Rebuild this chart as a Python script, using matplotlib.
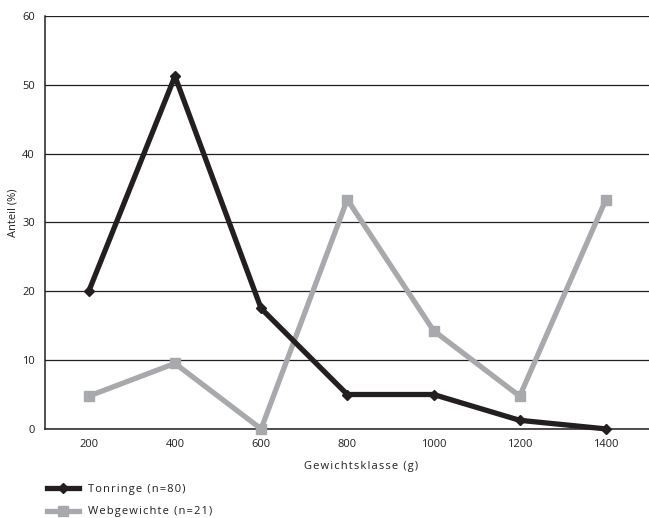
import matplotlib.pyplot as plt

plt.rcParams['font.family'] = ['Open Sans', 'DejaVu Sans']

klassen = ['200', '400', '600', '800', '1000', '1200', '1400']
tonringe = [20, 51.25, 17.5, 5, 5, 1.25, 0]
webgewichte = [4.76, 9.52, 0, 33.33, 14.29, 4.76, 33.33]


def spaced(s):
    # leichte Sperrung wie im Original
    return '\u200a'.join(s)


fig = plt.figure(figsize=(6.49, 5.18), dpi=100)
ax = fig.add_axes([0.069, 0.172, 0.931, 0.797])

x = list(range(len(klassen)))
ax.plot(x, tonringe, color='#231f20', lw=3.8, marker='D', ms=5,
        label=spaced('Tonringe (n=80)'), clip_on=False, zorder=4)
ax.plot(x, webgewichte, color='#a7a9ac', lw=3.8, marker='s', ms=7,
        label=spaced('Webgewichte (n=21)'), clip_on=False, zorder=3)

ax.set_xlim(-0.51, 6.5)
ax.set_ylim(0, 60)
ax.set_yticks(range(0, 61, 10))
ax.set_xticks(x)
ax.set_xticklabels(klassen)
ax.yaxis.grid(True, color='#231f20', lw=0.9)
ax.set_axisbelow(True)
ax.tick_params(length=0, labelsize=8, colors='#231f20', pad=7)
for s in ['top', 'right']:
    ax.spines[s].set_visible(False)
for s in ['left', 'bottom']:
    ax.spines[s].set_color('#231f20')
    ax.spines[s].set_linewidth(1.1)

ax.set_xlabel(spaced('Gewichtsklasse (g)'), fontsize=8, color='#231f20')
ax.xaxis.set_label_coords(0.523, -0.077)
ax.set_ylabel('Anteil (%)', fontsize=8, color='#231f20')
ax.yaxis.set_label_coords(-0.043, 0.523)

leg = fig.legend(loc='upper left', bbox_to_anchor=(0.072, 0.065), frameon=False,
                 fontsize=8, handlelength=2.9, handletextpad=0.8,
                 labelspacing=1.0, borderpad=0, borderaxespad=0)
for t in leg.get_texts():
    t.set_color('#231f20')

fig.savefig('out.png', dpi=100)
